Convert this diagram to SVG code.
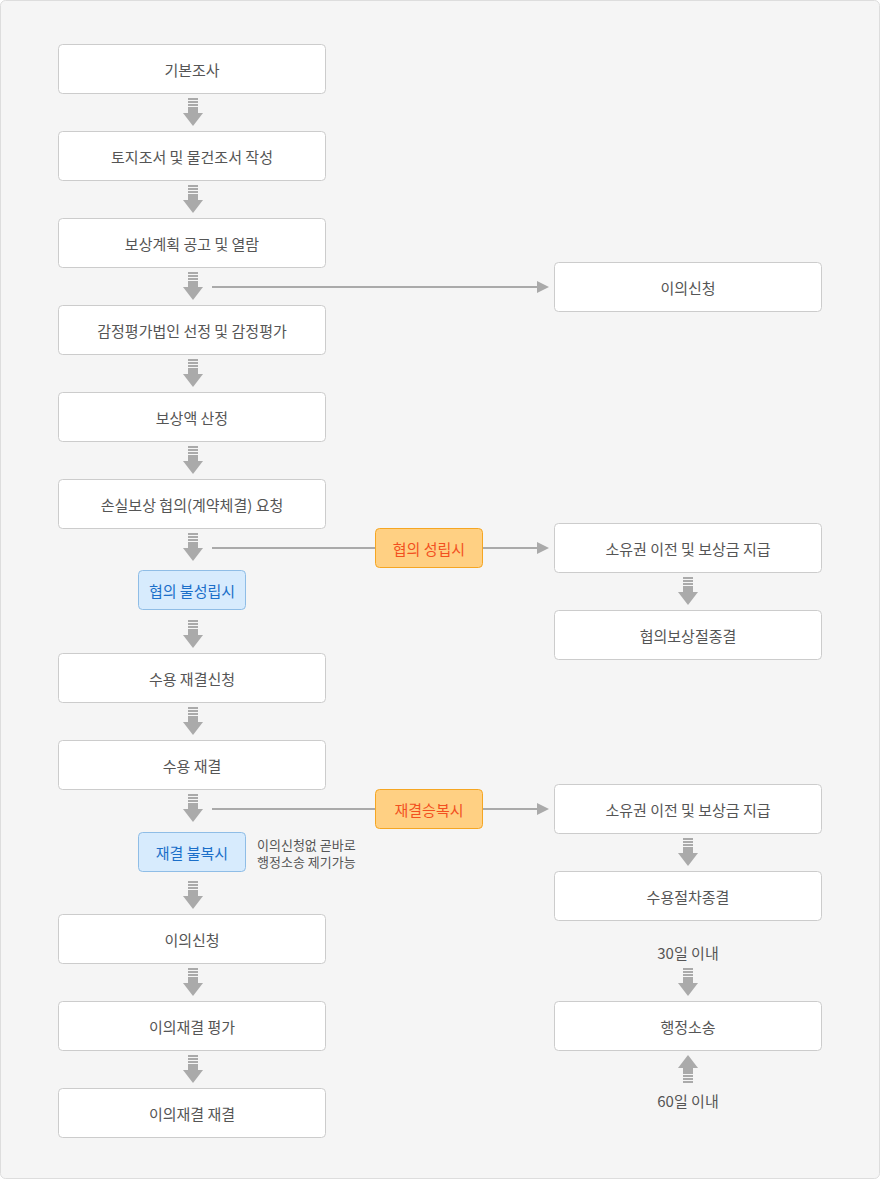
<svg xmlns="http://www.w3.org/2000/svg" xmlns:xlink="http://www.w3.org/1999/xlink" width="880" height="1179" viewBox="0 0 880 1179">
<style>
text{font-family:"Noto Sans CJK KR","Noto Sans",sans-serif;font-size:15px;fill:#555;text-anchor:middle;dominant-baseline:central}
.box{fill:#fff;stroke:#ccc;stroke-width:1}
.org{fill:#ffd083;stroke:#f5a623;stroke-width:1}
.org-t{fill:#f2501f}
.blu{fill:#d7ebfd;stroke:#8fbde6;stroke-width:1}
.blu-t{fill:#1b6fc9}
.ln{stroke:#aaa;stroke-width:2;fill:none}
.ar{fill:#aaa}
.note{text-anchor:start;font-size:13px}
</style>
<defs>
<g id="dn">
<rect x="-5" y="0" width="10" height="2" class="ar"/>
<rect x="-5" y="3" width="10" height="2" class="ar"/>
<rect x="-5" y="6" width="10" height="2" class="ar"/>
<rect x="-5" y="9" width="10" height="6" class="ar"/>
<polygon points="-10,15 10,15 0,28" class="ar"/>
</g>
<marker id="ah" markerWidth="12" markerHeight="12" refX="0" refY="6" orient="auto" markerUnits="userSpaceOnUse">
<polygon points="0,0 12,6 0,12" fill="#aaa"/>
</marker>
</defs>
<rect x="0.5" y="0.5" width="879" height="1178" rx="5" fill="#f5f5f5" stroke="#ddd"/>

<g id="connectors">
<use xlink:href="#dn" x="193" y="98"/>
<use xlink:href="#dn" x="193" y="185"/>
<use xlink:href="#dn" x="193" y="272"/>
<use xlink:href="#dn" x="193" y="359"/>
<use xlink:href="#dn" x="193" y="446"/>
<use xlink:href="#dn" x="193" y="533"/>
<use xlink:href="#dn" x="193" y="620"/>
<use xlink:href="#dn" x="193" y="707"/>
<use xlink:href="#dn" x="193" y="794"/>
<use xlink:href="#dn" x="193" y="881"/>
<use xlink:href="#dn" x="193" y="968"/>
<use xlink:href="#dn" x="193" y="1055"/>
<use xlink:href="#dn" x="688" y="577"/>
<use xlink:href="#dn" x="688" y="838"/>
<use xlink:href="#dn" x="688" y="968"/>
<use xlink:href="#dn" transform="translate(688,1083) scale(1,-1)"/>
<line x1="212" y1="287" x2="537" y2="287" class="ln" marker-end="url(#ah)"/>
<line x1="212" y1="548" x2="375" y2="548" class="ln"/>
<line x1="482" y1="548" x2="537" y2="548" class="ln" marker-end="url(#ah)"/>
<line x1="212" y1="809" x2="375" y2="809" class="ln"/>
<line x1="482" y1="809" x2="537" y2="809" class="ln" marker-end="url(#ah)"/>
</g>

<g id="n1"><rect x="58.5" y="44.5" width="267" height="49" rx="4" class="box"/><text x="192" y="69">기본조사</text></g>
<g id="n2"><rect x="58.5" y="131.5" width="267" height="49" rx="4" class="box"/><text x="192" y="156">토지조서 및 물건조서 작성</text></g>
<g id="n3"><rect x="58.5" y="218.5" width="267" height="49" rx="4" class="box"/><text x="192" y="243">보상계획 공고 및 열람</text></g>
<g id="n4"><rect x="58.5" y="305.5" width="267" height="49" rx="4" class="box"/><text x="192" y="330">감정평가법인 선정 및 감정평가</text></g>
<g id="n5"><rect x="58.5" y="392.5" width="267" height="49" rx="4" class="box"/><text x="192" y="417">보상액 산정</text></g>
<g id="n6"><rect x="58.5" y="479.5" width="267" height="49" rx="4" class="box"/><text x="192" y="504">손실보상 협의(계약체결) 요청</text></g>
<g id="n7"><rect x="58.5" y="653.5" width="267" height="49" rx="4" class="box"/><text x="192" y="678">수용 재결신청</text></g>
<g id="n8"><rect x="58.5" y="740.5" width="267" height="49" rx="4" class="box"/><text x="192" y="765">수용 재결</text></g>
<g id="n9"><rect x="58.5" y="914.5" width="267" height="49" rx="4" class="box"/><text x="192" y="939">이의신청</text></g>
<g id="n10"><rect x="58.5" y="1001.5" width="267" height="49" rx="4" class="box"/><text x="192" y="1026">이의재결 평가</text></g>
<g id="n11"><rect x="58.5" y="1088.5" width="267" height="49" rx="4" class="box"/><text x="192" y="1113">이의재결 재결</text></g>

<g id="r1"><rect x="554.5" y="262.5" width="267" height="49" rx="4" class="box"/><text x="688" y="287">이의신청</text></g>
<g id="r2"><rect x="554.5" y="523.5" width="267" height="49" rx="4" class="box"/><text x="688" y="548">소유권 이전 및 보상금 지급</text></g>
<g id="r3"><rect x="554.5" y="610.5" width="267" height="49" rx="4" class="box"/><text x="688" y="635">협의보상절종결</text></g>
<g id="r4"><rect x="554.5" y="784.5" width="267" height="49" rx="4" class="box"/><text x="688" y="809">소유권 이전 및 보상금 지급</text></g>
<g id="r5"><rect x="554.5" y="871.5" width="267" height="49" rx="4" class="box"/><text x="688" y="896">수용절차종결</text></g>
<g id="r6"><rect x="554.5" y="1001.5" width="267" height="49" rx="4" class="box"/><text x="688" y="1026">행정소송</text></g>

<g id="o1"><rect x="375.5" y="528.5" width="107" height="39" rx="4" class="org"/><text x="429" y="548" class="org-t">협의 성립시</text></g>
<g id="o2"><rect x="375.5" y="789.5" width="107" height="39" rx="4" class="org"/><text x="429" y="809" class="org-t">재결승복시</text></g>
<g id="b1"><rect x="138.5" y="570.5" width="107" height="39" rx="4" class="blu"/><text x="192" y="590" class="blu-t">협의 불성립시</text></g>
<g id="b2"><rect x="138.5" y="832.5" width="107" height="39" rx="4" class="blu"/><text x="192" y="852" class="blu-t">재결 불복시</text></g>

<g id="notes">
<text x="257" y="844" class="note">이의신청없 곧바로</text>
<text x="257" y="861" class="note">행정소송 제기가능</text>
<text x="688" y="952">30일 이내</text>
<text x="688" y="1100">60일 이내</text>
</g>
</svg>
